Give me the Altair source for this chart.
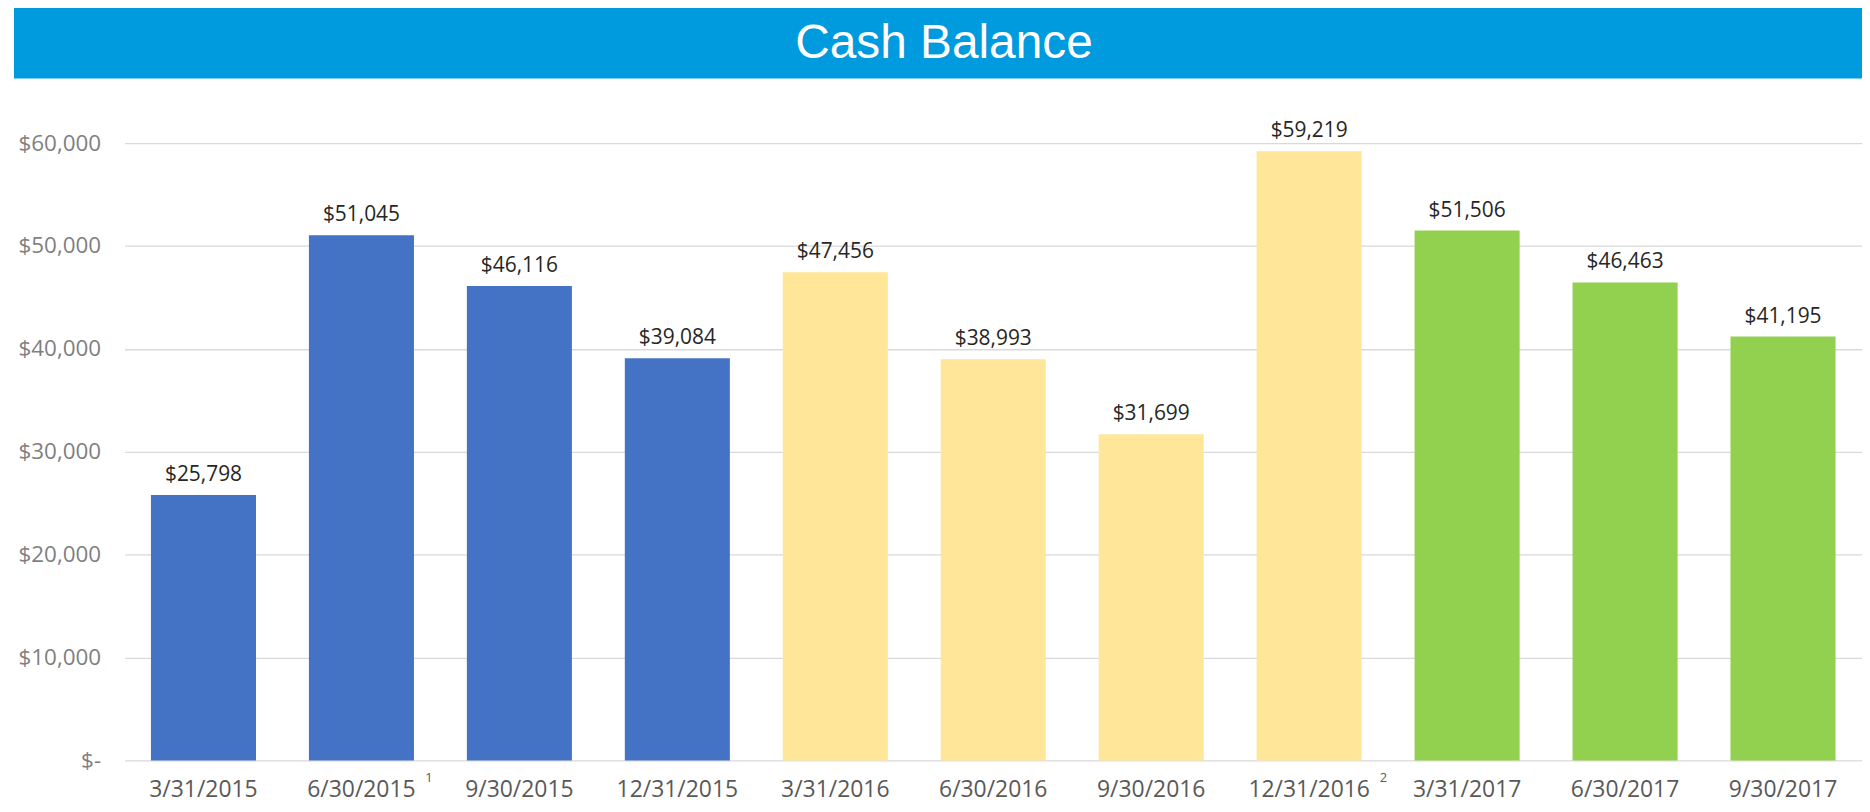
import altair as alt
import pandas as pd

dates = ["3/31/2015", "6/30/2015", "9/30/2015", "12/31/2015",
         "3/31/2016", "6/30/2016", "9/30/2016", "12/31/2016",
         "3/31/2017", "6/30/2017", "9/30/2017"]
balances = [25798, 51045, 46116, 39084, 47456, 38993, 31699, 59219, 51506, 46463, 41195]
years = ["2015", "2015", "2015", "2015", "2016", "2016", "2016", "2016", "2017", "2017", "2017"]
footnotes = ["", "1", "", "", "", "", "", "2", "", "", ""]
title_text = "Cash Balance"

year_domain = ["2015", "2016", "2017"]
year_colors = ["#4472C4", "#FFE699", "#92D050"]

df = pd.DataFrame({"date": dates, "value": balances, "year": years, "note": footnotes})
title_df = pd.DataFrame({"title": [title_text]})

W, H = 1745, 620
FONT = "Open Sans"

x_enc = alt.X("date:N", sort=dates,
              scale=alt.Scale(paddingInner=0.335, paddingOuter=0.1675),
              axis=alt.Axis(title=None, labelAngle=0, labelFontSize=23, labelColor="#595959",
                            labelFont=FONT, ticks=False, domain=False, labelPadding=18,
                            grid=False))
y_enc = alt.Y("value:Q", scale=alt.Scale(domain=[0, 60000], nice=False),
              axis=alt.Axis(title=None, values=[0, 10000, 20000, 30000, 40000, 50000, 60000],
                            labelExpr="datum.value == 0 ? '$-\u2007\u2009' : '$' + format(datum.value, ',')",
                            labelFontSize=22.5, labelColor="#7F7F7F", labelFont=FONT,
                            ticks=False, domain=False, labelPadding=24,
                            gridColor="#D9D9D9", gridWidth=1.3))

bars = alt.Chart(df).mark_bar().encode(
    x=x_enc, y=y_enc,
    color=alt.Color("year:N", scale=alt.Scale(domain=year_domain, range=year_colors), legend=None),
)

labels = alt.Chart(df).mark_text(baseline="bottom", dy=-10, fontSize=21, font=FONT, color="#262626").encode(
    x=alt.X("date:N", sort=dates),
    y="value:Q",
    text=alt.Text("value:Q", format="$,"),
)

note1 = alt.Chart(df).transform_filter("datum.note == '1'").mark_text(
    align="left", baseline="middle", dx=64, fontSize=13, font=FONT, color="#595959").encode(
    x=alt.X("date:N", sort=dates), y=alt.value(H + 18), text="note:N",
)
note2 = alt.Chart(df).transform_filter("datum.note == '2'").mark_text(
    align="left", baseline="middle", dx=71, fontSize=13, font=FONT, color="#595959").encode(
    x=alt.X("date:N", sort=dates), y=alt.value(H + 18), text="note:N",
)

title_bar = alt.Chart(title_df).mark_rect(color="#009ADE").encode(
    x=alt.value(-111), x2=alt.value(W + 10), y=alt.value(-137), y2=alt.value(-65),
)
title_label = alt.Chart(title_df).mark_text(fontSize=48, font="Liberation Sans", color="white",
                                            align="center", baseline="middle").encode(
    x=alt.value(823), y=alt.value(-100), text="title:N",
)

chart = alt.layer(title_bar, title_label, bars, labels, note1, note2).properties(
    width=W, height=H,
    autosize=alt.AutoSizeParams(type="none"),
    padding={"left": 117, "top": 134, "right": 0, "bottom": 42},
).configure(background="white").configure_view(stroke=None, strokeWidth=0)

chart.save("out.html", embed_options={"renderer": "svg", "actions": False})
